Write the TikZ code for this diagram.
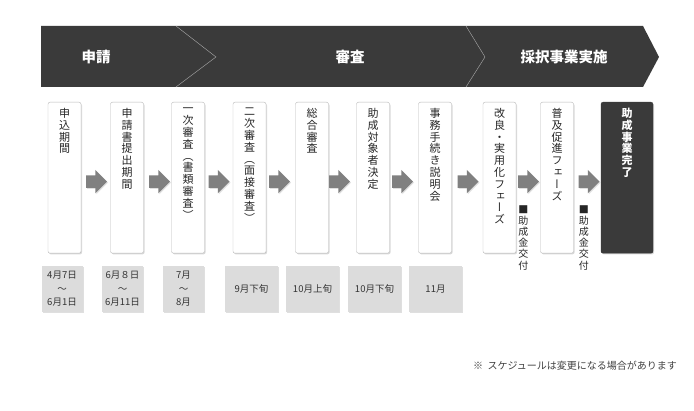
\documentclass[tikz,border=0pt]{standalone}
\usepackage{fontspec}
\setmainfont{Noto Sans CJK JP}
\newfontfamily\vjp[RawFeature=+vert]{Noto Sans CJK JP}
\usepackage{tikz}
\usetikzlibrary{arrows,shapes,positioning,shadows}
\definecolor{phasegray}{HTML}{3A3A3A}
\definecolor{arrowgray}{HTML}{808080}
\definecolor{dategray}{HTML}{DCDCDC}
\tikzset{
  basic/.style    = {draw=gray!55, fill=white, rounded corners=2pt, anchor=north, inner sep=0pt,
                     minimum height=151pt,
                     drop shadow={opacity=0.3, shadow xshift=1pt, shadow yshift=-1.2pt}},
  stepbox/.style  = {basic, minimum width=33pt},
  donebox/.style  = {basic, draw=phasegray, fill=phasegray, minimum width=52pt},
  steptext/.style = {anchor=north, align=center, inner sep=0pt, text=black!85,
                     font=\vjp\fontsize{11}{11.8}\selectfont},
  donetext/.style = {steptext, text=white, font=\vjp\bfseries\fontsize{11}{11.8}\selectfont},
  phase/.style    = {text=white, font=\bfseries\fontsize{14.5}{16}\selectfont},
  garrow/.style   = {single arrow, fill=arrowgray, inner xsep=0pt, inner ysep=6pt,
                     minimum height=21pt, single arrow head extend=5.5pt,
                     drop shadow={opacity=0.25, shadow xshift=1pt, shadow yshift=-1pt}},
  paytext/.style  = {anchor=north, align=center, inner sep=0pt, text=black!85,
                     font=\vjp\fontsize{10}{11.2}\selectfont},
  datebox/.style  = {fill=dategray, inner sep=0pt, align=center, minimum height=46pt,
                     text=black!80, font=\fontsize{9.5}{13.5}\selectfont,
                     drop shadow={opacity=0.25, shadow xshift=1pt, shadow yshift=-1pt}},
  narrow/.style   = {datebox, minimum width=41pt},
  wide/.style     = {datebox, minimum width=53pt}
}

\begin{document}
\begin{tikzpicture}[x=1pt, y=-1pt]
\useasboundingbox (0,0) rectangle (694,411);

% phase banner
\fill[phasegray] (41,26) -- (643,26) -- (659,57) -- (643,87) -- (41,87) -- cycle;
\draw[gray!65, thin] (176,26) -- (216,57) -- (176,87);
\draw[gray!65, thin] (466,26) -- (485,57) -- (466,87);
\node[phase] (ph1) at (96,57) {申請};
\node[phase] (ph2) at (350,57) {審査};
\node[phase] (ph3) at (564,57) {採択事業実施};

% steps
\node[stepbox] (b1) at (64.5,102) {};
\node[stepbox] (b2) at (127,102) {};
\node[stepbox] (b3) at (188,102) {};
\node[stepbox] (b4) at (249.5,102) {};
\node[stepbox] (b5) at (312,102) {};
\node[stepbox] (b6) at (373,102) {};
\node[stepbox] (b7) at (435,102) {};
\node[stepbox] (b8) at (499.5,102) {};
\node[stepbox] (b9) at (557,102) {};
\node[donebox] (b10) at (627,102) {};

\node[steptext] (t1) at ([yshift=-6pt]b1.north) {申\\込\\期\\間};
\node[steptext] (t2) at ([yshift=-6pt]b2.north) {申\\請\\書\\提\\出\\期\\間};
\node[steptext] (t3) at ([yshift=-6pt]b3.north) {一\\次\\審\\査\\（\\書\\類\\審\\査\\）};
\node[steptext] (t4) at ([yshift=-6pt]b4.north) {二\\次\\審\\査\\（\\面\\接\\審\\査\\）};
\node[steptext] (t5) at ([yshift=-6pt]b5.north) {総\\合\\審\\査};
\node[steptext] (t6) at ([yshift=-6pt]b6.north) {助\\成\\対\\象\\者\\決\\定};
\node[steptext] (t7) at ([yshift=-6pt]b7.north) {事\\務\\手\\続\\き\\説\\明\\会};
\node[steptext] (t8) at ([yshift=-6pt]b8.north) {改\\良\\・\\実\\用\\化\\フ\\ェ\\ー\\ズ};
\node[steptext] (t9) at ([yshift=-6pt]b9.north) {普\\及\\促\\進\\フ\\ェ\\ー\\ズ};
\node[donetext] (t10) at ([yshift=-6pt]b10.north) {助\\成\\事\\業\\完\\了};

% arrows between the steps
\node[garrow, left=3pt of b2, yshift=-4pt] (a1) {};
\node[garrow, left=1pt of b3, yshift=-4pt] (a2) {};
\node[garrow, left=3pt of b4, yshift=-4pt] (a3) {};
\node[garrow, left=5pt of b5, yshift=-4pt] (a4) {};
\node[garrow, left=6pt of b6, yshift=-4pt] (a5) {};
\node[garrow, left=5pt of b7, yshift=-4pt] (a6) {};
\node[garrow, left=4pt of b8, yshift=-4pt] (a7) {};
\node[garrow, left=1pt of b9, yshift=-4pt] (a8) {};
\node[garrow, left=1pt of b10, yshift=-4pt] (a9) {};

\node[paytext, below=17pt of a8, xshift=-2pt] (p1) {■\\助\\成\\金\\交\\付};
\node[paytext, below=17pt of a9, xshift=-2pt] (p2) {■\\助\\成\\金\\交\\付};

% schedule
\node[narrow] (d1) at (62,289) {4月7日\\～\\6月1日};
\node[narrow] (d2) at (122.5,289) {6月８日\\～\\6月11日};
\node[narrow] (d3) at (183.5,289) {7月\\～\\8月};
\node[wide] (d4) at (251.5,289) {9月下旬};
\node[wide] (d5) at (312.5,289) {10月上旬};
\node[wide] (d6) at (374.5,289) {10月下旬};
\node[wide] (d7) at (435.5,289) {11月};

\node[anchor=east, inner sep=0pt, text=black!75, font=\fontsize{10}{12}\selectfont] (note) at (677,366)
  {※\ \ スケジュールは変更になる場合があります};

\end{tikzpicture}
\end{document}
